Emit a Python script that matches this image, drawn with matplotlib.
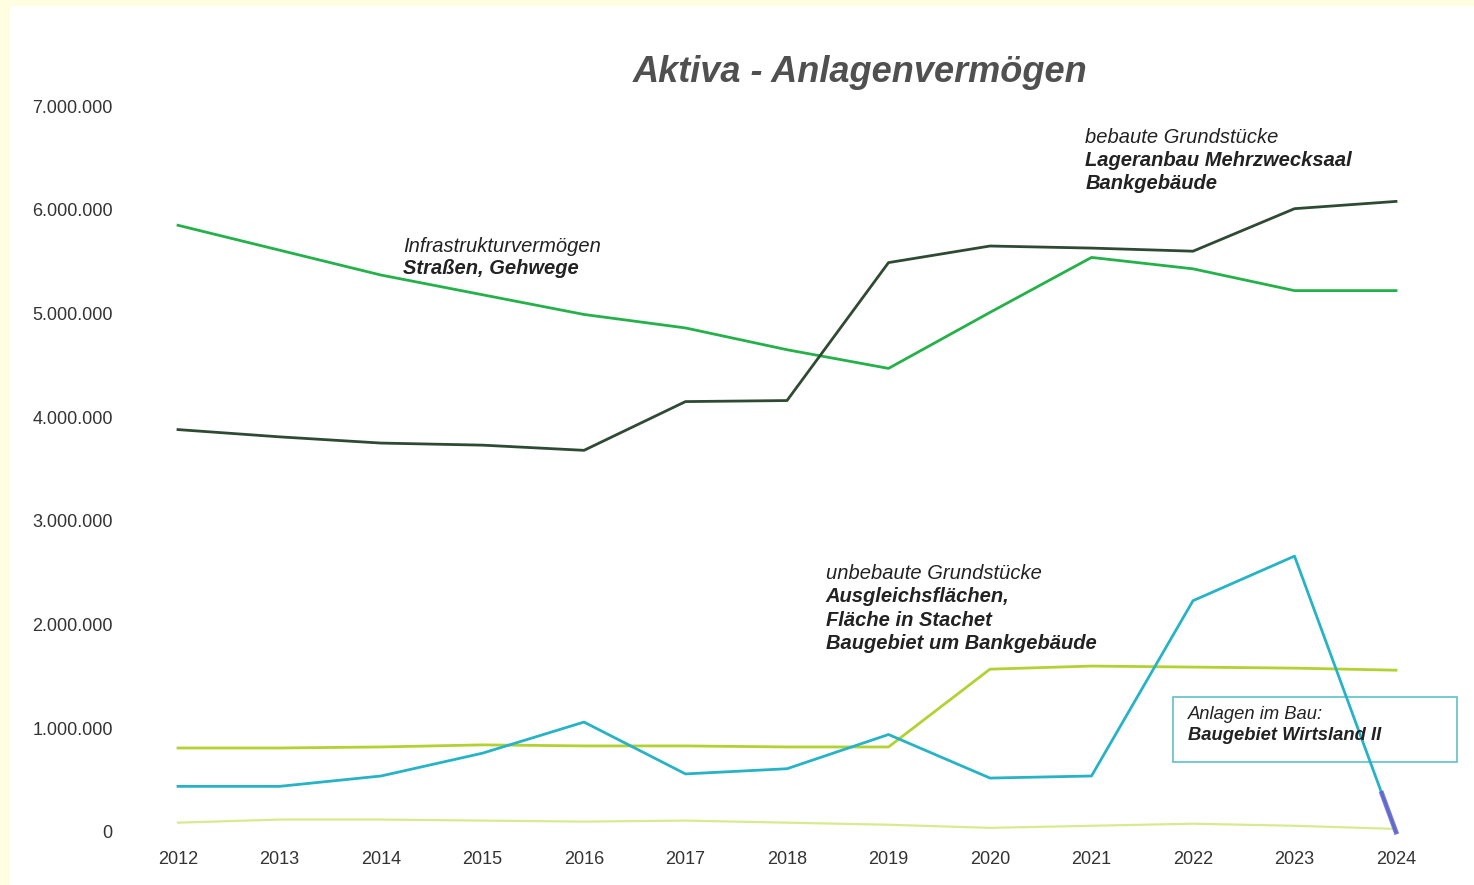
import matplotlib.pyplot as plt
from matplotlib.patches import Rectangle
import numpy as np

plt.rcParams['font.family'] = ['Liberation Sans', 'DejaVu Sans']

years = list(range(2012, 2025))

# values in EUR
infrastruktur = [5850000, 5610000, 5370000, 5180000, 4990000, 4860000, 4650000,
                 4470000, 5010000, 5540000, 5430000, 5220000, 5220000]
bebaut = [3880000, 3810000, 3750000, 3730000, 3680000, 4150000, 4160000,
          5490000, 5650000, 5630000, 5600000, 6010000, 6080000]
unbebaut = [810000, 810000, 820000, 840000, 830000, 830000, 820000,
            820000, 1570000, 1600000, 1590000, 1580000, 1560000]
anlagen_bau = [440000, 440000, 540000, 760000, 1060000, 560000, 610000,
               940000, 520000, 540000, 2230000, 2660000, 0]
sonstige = [90000, 120000, 120000, 110000, 100000, 110000, 90000,
            70000, 40000, 60000, 80000, 60000, 30000]

yticks = [0, 1000000, 2000000, 3000000, 4000000, 5000000, 6000000, 7000000]
ytick_labels = ['0', '1.000.000', '2.000.000', '3.000.000', '4.000.000',
                '5.000.000', '6.000.000', '7.000.000']

fig = plt.figure(figsize=(14.74, 8.85), dpi=100, facecolor='#fffee0')
fig.patches.append(Rectangle((10 / 1474, 0), 1, 1 - 6 / 885, transform=fig.transFigure,
                             facecolor='white', edgecolor='none', zorder=-10))

ax = fig.add_axes([178 / 1474, 1 - 832 / 885, (1396 - 178) / 1474, (832 - 106) / 885])
ax.set_facecolor('none')
ax.set_xlim(2012, 2024)
ax.set_ylim(0, 7000000)
for s in ax.spines.values():
    s.set_visible(False)

ax.plot(years, sonstige, color='#d8ea90', lw=1.6, clip_on=False)
ax.plot(years, unbebaut, color='#b2d232', lw=2.0, clip_on=False)
ax.plot(years, anlagen_bau, color='#27b3c6', lw=2.0, clip_on=False)
ax.plot(years, infrastruktur, color='#25b14a', lw=2.0, clip_on=False)
ax.plot(years, bebaut, color='#2f4a33', lw=2.0, clip_on=False)

# hand-drawn purple mark on the last stretch of the Anlagen im Bau line
xs = np.linspace(2023.86, 2024, 5)
ax.plot(xs, np.interp(xs, years, anlagen_bau), color='#6a5acd', lw=3.5,
        alpha=0.8, clip_on=False)

ax.set_xticks(years)
ax.set_xticklabels([str(y) for y in years], fontsize=13, color='#333333')
ax.set_yticks(yticks)
ax.set_yticklabels(ytick_labels, fontsize=13, color='#333333')
ax.tick_params(axis='x', length=0, pad=14)
ax.tick_params(axis='y', length=0, pad=47)

fig.text(860 / 1474, 1 - 72 / 885, 'Aktiva - Anlagenvermögen', ha='center', va='center',
         fontsize=26, fontweight='bold', fontstyle='italic', color='#505050')

tc = '#222222'
fs = 14.5
ax.text(2014.22, 5650000, 'Infrastrukturvermögen', fontsize=fs, style='italic', color=tc,
        va='center')
ax.text(2014.22, 5430000, 'Straßen, Gehwege', fontsize=fs, style='italic',
        fontweight='bold', color=tc, va='center')

ax.text(2020.94, 6700000, 'bebaute Grundstücke', fontsize=fs, style='italic', color=tc,
        va='center')
ax.text(2020.94, 6470000, 'Lageranbau Mehrzwecksaal', fontsize=fs, style='italic',
        fontweight='bold', color=tc, va='center')
ax.text(2020.94, 6250000, 'Bankgebäude', fontsize=fs, style='italic',
        fontweight='bold', color=tc, va='center')

ax.text(2018.38, 2490000, 'unbebaute Grundstücke', fontsize=fs, style='italic', color=tc,
        va='center')
for label, yv in [('Ausgleichsflächen,', 2270000), ('Fläche in Stachet', 2040000),
                  ('Baugebiet um Bankgebäude', 1820000)]:
    ax.text(2018.38, yv, label, fontsize=fs, style='italic', fontweight='bold',
            color=tc, va='center')

ax.add_patch(Rectangle((2021.80, 675000), 2.8, 625000, facecolor='none',
                       edgecolor='#5fc0c8', lw=1.2, clip_on=False))
ax.text(2021.95, 1130000, 'Anlagen im Bau:', fontsize=13.2, style='italic', color=tc,
        va='center')
ax.text(2021.95, 930000, 'Baugebiet Wirtsland II', fontsize=13.2, style='italic',
        fontweight='bold', color=tc, va='center')

fig.savefig('out.png', dpi=100, facecolor=fig.get_facecolor())
